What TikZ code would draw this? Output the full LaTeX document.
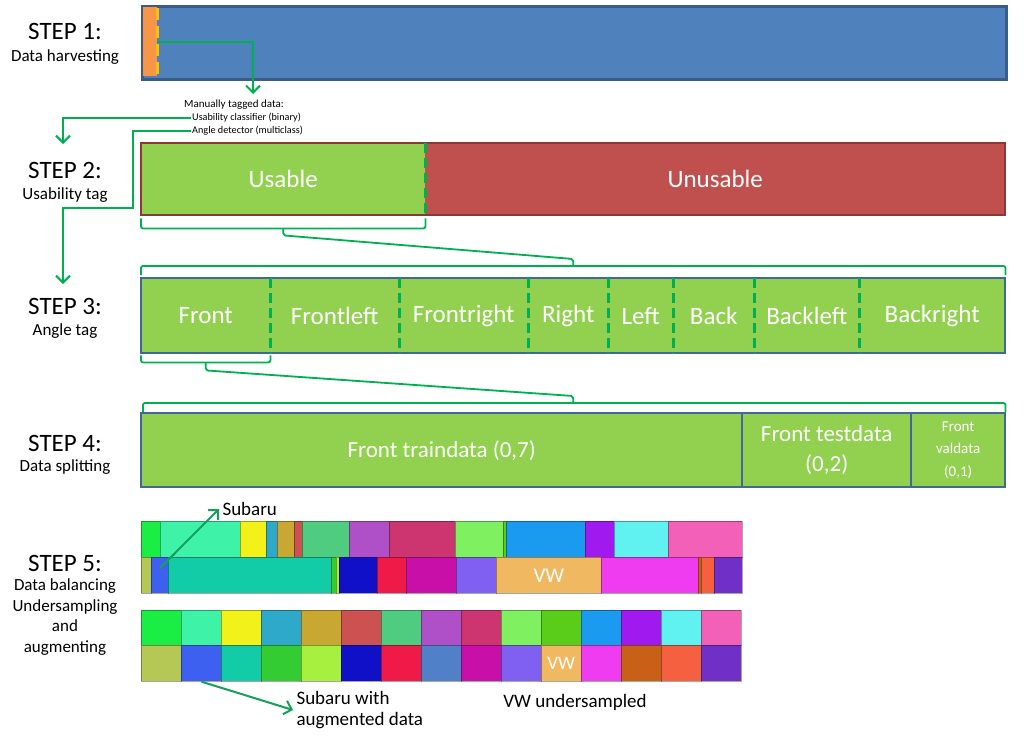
\documentclass[tikz,border=0pt]{standalone}
\usepackage{fontspec}
\setmainfont{Carlito}
\usetikzlibrary{arrows.meta,calc}

\definecolor{harvblue}{HTML}{4F81BD}
\definecolor{harvedge}{HTML}{385D8A}
\definecolor{tagorange}{HTML}{F79646}
\definecolor{tagline}{HTML}{FFC000}
\definecolor{okgreen}{HTML}{92D050}
\definecolor{badred}{HTML}{C0504D}
\definecolor{badedge}{HTML}{8C3836}
\definecolor{linkgreen}{HTML}{00B050}
\definecolor{subgreen}{HTML}{14A05A}
\definecolor{baredge}{HTML}{41679C}
% class colours, upper row
\definecolor{topc1}{HTML}{1AEE45}
\definecolor{topc2}{HTML}{3EF2A8}
\definecolor{topc3}{HTML}{F2F21A}
\definecolor{topc4}{HTML}{2EA9CA}
\definecolor{topc5}{HTML}{C8A832}
\definecolor{topc6}{HTML}{CC5252}
\definecolor{topc7}{HTML}{50CC80}
\definecolor{topc8}{HTML}{B050C8}
\definecolor{topc9}{HTML}{CC3570}
\definecolor{topc10}{HTML}{7FF060}
\definecolor{topc11}{HTML}{5ACC1A}
\definecolor{topc12}{HTML}{1A9BF0}
\definecolor{topc13}{HTML}{A01AF0}
\definecolor{topc14}{HTML}{60F2F0}
\definecolor{topc15}{HTML}{F260B8}
% class colours, lower row
\definecolor{lowc1}{HTML}{B5C855}
\definecolor{lowc2}{HTML}{3D60F0}
\definecolor{lowc3}{HTML}{12CCA8}
\definecolor{lowc4}{HTML}{33CC33}
\definecolor{lowc5}{HTML}{A8F040}
\definecolor{lowc6}{HTML}{1010C8}
\definecolor{lowc7}{HTML}{F01A48}
\definecolor{lowc8}{HTML}{5080C8}
\definecolor{lowc9}{HTML}{C810A8}
\definecolor{lowc10}{HTML}{8060F0}
\definecolor{lowc11}{HTML}{F0B860}
\definecolor{lowc12}{HTML}{F03CF0}
\definecolor{lowc13}{HTML}{C86018}
\definecolor{lowc14}{HTML}{F56040}
\definecolor{lowc15}{HTML}{7030C8}

\tikzset{
  steplbl/.style={font=\fontsize{25}{28}\selectfont},
  sublbl/.style={font=\fontsize{17}{20.4}\selectfont, align=center},
  annot/.style={font=\fontsize{10.2}{12}\selectfont, anchor=west, inner sep=1pt},
  seg/.style={fill=okgreen, text=white, inner sep=0pt, anchor=north west,
    font=\fontsize{25}{30}\selectfont, align=center},
  divider/.style={linkgreen, line width=3.5pt, dash pattern=on 10pt off 5pt},
  bracket/.style={linkgreen, line width=1.8pt, rounded corners=2pt},
  garrow/.style={linkgreen, line width=2pt, -{Straight Barb[length=7pt,width=14pt]}},
  sarrow/.style={subgreen, line width=2pt, -{Straight Barb[length=7pt,width=14pt]}},
  stripe/.style={draw=black, draw opacity=.35, line width=.6pt, inner sep=0pt, anchor=north west},
  note/.style={font=\fontsize{19}{21}\selectfont},
}

\begin{document}
\begin{tikzpicture}[x=1pt, y=-1pt]
\useasboundingbox (0,0) rectangle (1024,744);

% step labels
\node[steplbl] (step1) at (65,31) {STEP 1:};
\node[sublbl] (step1txt) at (65,57) {Data harvesting};
\node[steplbl] (step2) at (65,170) {STEP 2:};
\node[sublbl] (step2txt) at (65,195) {Usability tag};
\node[steplbl] (step3) at (65,306) {STEP 3:};
\node[sublbl] (step3txt) at (65,331) {Angle tag};
\node[steplbl] (step4) at (65,443) {STEP 4:};
\node[sublbl] (step4txt) at (65,467) {Data splitting};
\node[steplbl] (step5) at (65,563) {STEP 5:};
\node[sublbl] (step5txt) at (65,617) {Data balancing\\Undersampling\\and\\augmenting};

% step 1
\node[draw=harvedge, fill=harvblue, line width=2.5pt, inner sep=0pt, anchor=north west,
  minimum width=864pt, minimum height=73pt] (harvest) at (141,5) {};
\fill[tagorange] (143,7) rectangle (157,76);
\draw[tagline, line width=3pt, dash pattern=on 12pt off 6pt] (157,8) -- (157,77);
\coordinate (tagstart) at (157,42);
\coordinate (tagend) at (253,94);

\node[annot, font=\fontsize{11}{12}\selectfont] (manual) at (183,105) {Manually tagged data:};
\node[annot] (usab) at (191,118) {Usability classifier (binary)};
\node[annot] (angle) at (191,131) {Angle detector (multiclass)};
\coordinate (s2in) at (63,144);
\coordinate (s3in) at (63,284);

\draw[garrow] (tagstart) -| (tagend);
\draw[garrow] (usab.west) -| (s2in);
\draw[garrow] (angle.west) -| (133,208) -| (s3in);

% step 2
\node[seg, minimum width=284pt, minimum height=72pt] (usable) at (141,143) {Usable};
\node[seg, fill=badred, minimum width=580pt, minimum height=72pt] (unusable) at (425,143) {Unusable};
\draw[badedge, line width=2pt] (usable.north west) rectangle (unusable.south east);
\draw[divider] (usable.north east) -- (usable.south east);

% step 3
\foreach \xa/\xb/\txt [count=\i] in {141/270/Front, 270/399/Frontleft, 399/528/Frontright,
    528/608/Right, 608/673/Left, 673/754/Back, 754/859/Backleft, 859/1005/Backright}
  \node[seg, minimum width={(\xb-\xa)*1pt}, minimum height=75pt] (ang\i) at (\xa,278) {\txt};
\draw[baredge, line width=2pt] (ang1.north west) rectangle (ang8.south east);
\foreach \i in {1,...,7}
  \draw[divider] (ang\i.north east) -- (ang\i.south east);

% step 4
\node[seg, minimum width=601pt, minimum height=74pt, font=\fontsize{23}{30}\selectfont]
  (train) at (141,413) {Front traindata (0,7)};
\node[seg, minimum width=169pt, minimum height=74pt, font=\fontsize{23}{30}\selectfont]
  (test) at (742,413) {Front testdata\\(0,2)};
\node[seg, minimum width=94pt, minimum height=74pt, font=\fontsize{15}{22.5}\selectfont]
  (val) at (911,413) {Front\\valdata\\(0,1)};
\draw[baredge, line width=2pt] (train.north west) rectangle (val.south east);
\draw[baredge, line width=2pt] (train.north east) -- (train.south east);
\draw[baredge, line width=2pt] (test.north east) -- (test.south east);

% zoom brackets
\draw[bracket] ([yshift=-3pt]usable.south west) -- ++(0,10) -| ([yshift=-3pt]usable.south east);
\coordinate (angtop) at ($(ang1.north west)!.5!(ang8.north east)+(0,-12)$);
\draw[bracket] ([yshift=-13pt]usable.south) -- ++(0,7) -- ($(angtop)+(0,-7)$) -- (angtop);
\draw[bracket] ([yshift=3pt]ang1.north west) -- ++(0,-9) -| ([yshift=3pt]ang8.north east);

\draw[bracket] ([yshift=-2pt]ang1.south west) -- ++(0,7) -| ([yshift=-2pt]ang1.south east);
\coordinate (traintop) at ($(train.north west)!.5!(val.north east)+(0,-10)$);
\draw[bracket] ([yshift=-9pt]ang1.south) -- ++(0,8) -- ($(traintop)+(0,-7)$) -- (traintop);
\draw[bracket] ([xshift=2pt,yshift=1pt]train.north west) -- ++(0,-9) -| ([yshift=1pt]val.north east);

% step 5, class distribution
\foreach \xa/\xb/\c [count=\i] in {141/160/topc1, 160/240/topc2, 240/266/topc3, 266/277/topc4,
    277/294/topc5, 294/302/topc6, 302/349/topc7, 349/389/topc8, 389/455/topc9, 455/503/topc10,
    503/506/topc11, 506/585/topc12, 585/614/topc13, 614/668/topc14, 668/742/topc15}
  \node[stripe, fill=\c, minimum width={(\xb-\xa)*1pt}, minimum height=36pt] (ra\i) at (\xa,521) {};
\foreach \xa/\xb/\c [count=\i] in {141/151/lowc1, 151/168/lowc2, 168/331/lowc3, 331/335.5/lowc4,
    335.5/339/lowc5, 339/377/lowc6, 377/406/lowc7, 406/456/lowc9, 456/496/lowc10, 496/601/lowc11,
    601/698/lowc12, 698/701/lowc13, 701/714/lowc14, 714/742/lowc15}
  \node[stripe, fill=\c, minimum width={(\xb-\xa)*1pt}, minimum height=36pt] (rb\i) at (\xa,557) {};
\node[text=white, font=\fontsize{21}{24}\selectfont] (vwbig) at (rb10) {VW};

% step 5, balanced
\foreach \c [count=\i] in {topc1,topc2,topc3,topc4,topc5,topc6,topc7,topc8,topc9,topc10,
    topc11,topc12,topc13,topc14,topc15}
  \node[stripe, fill=\c, minimum width=40pt, minimum height=35pt] (up\i) at ({101+40*\i},610) {};
\foreach \c [count=\i] in {lowc1,lowc2,lowc3,lowc4,lowc5,lowc6,lowc7,lowc8,lowc9,lowc10,
    lowc11,lowc12,lowc13,lowc14,lowc15}
  \node[stripe, fill=\c, minimum width=40pt, minimum height=36pt] (lo\i) at ({101+40*\i},645) {};
\node[text=white, font=\fontsize{19}{22}\selectfont] (vwsmall) at (lo11) {VW};

% notes
\node[note, anchor=west] (subaru) at (219,509) {Subaru};
\draw[sarrow] ([yshift=7pt]rb2.center) -- (subaru.west);
\node[note, anchor=west, align=left] (subaug) at (293,710) {Subaru with\\augmented data};
\draw[sarrow] (lo2.south) -- (subaug.west);
\node[note] (vwunder) at (575,702) {VW undersampled};
\end{tikzpicture}
\end{document}
